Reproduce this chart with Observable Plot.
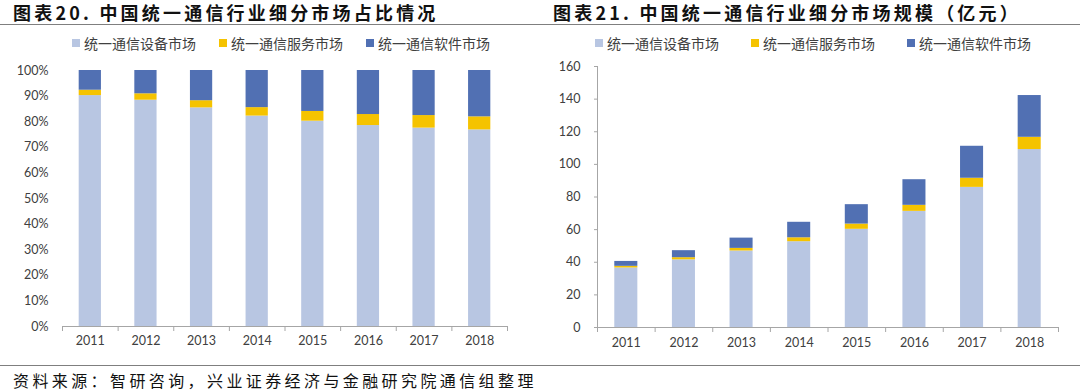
<!DOCTYPE html>
<html><head><meta charset="utf-8">
<script src="https://cdn.jsdelivr.net/npm/d3@7"></script>
<script src="https://cdn.jsdelivr.net/npm/@observablehq/plot@0.6"></script>
<style>
body{margin:0;background:#fff;width:1080px;height:392px;position:relative;overflow:hidden;font-family:"Noto Sans CJK SC",sans-serif;}
.title{position:absolute;top:0px;font-size:18px;font-weight:bold;letter-spacing:3.2px;color:#111;line-height:24px;white-space:nowrap;}
.hline{position:absolute;left:0;width:1080px;height:0;border-top:1.5px solid #7f7f7f;}
.legend{position:absolute;top:34px;display:flex;align-items:center;font-size:14px;color:#404040;line-height:18px;white-space:nowrap;}
.item{display:flex;align-items:center;}
.sw{width:8px;height:8px;margin-right:4px;}
.chart{position:absolute;top:52px;}
.source{position:absolute;left:13px;top:370px;font-size:16px;letter-spacing:3.4px;line-height:20px;color:#111;white-space:nowrap;}
</style></head><body>
<div class="title" style="left:13px">图表20. 中国统一通信行业细分市场占比情况</div>
<div class="title" style="left:553px">图表21. 中国统一通信行业细分市场规模（亿元）</div>
<div class="hline" style="top:24px"></div>
<div class="legend" id="leg1" style="left:72px"></div>
<div class="legend" id="leg2" style="left:595px"></div>
<div class="chart" id="c1" style="left:0px"></div>
<div class="chart" id="c2" style="left:540px"></div>
<div class="hline" style="top:365px"></div>
<div class="source">资料来源：智研咨询，兴业证券经济与金融研究院通信组整理</div>
<script>
const years = [2011, 2012, 2013, 2014, 2015, 2016, 2017, 2018];
const seriesNames = ["统一通信设备市场", "统一通信服务市场", "统一通信软件市场"];
const seriesColors = ["#B8C6E2", "#F5C300", "#5170B3"];

// Chart 20: share (fraction of total)
const shareDevice   = [0.902, 0.884, 0.854, 0.822, 0.802, 0.785, 0.775, 0.768];
const shareService  = [0.021, 0.025, 0.028, 0.033, 0.038, 0.043, 0.049, 0.051];
const shareSoftware = [0.077, 0.091, 0.118, 0.145, 0.160, 0.172, 0.176, 0.181];
const shareTicks = [0, 0.1, 0.2, 0.3, 0.4, 0.5, 0.6, 0.7, 0.8, 0.9, 1.0];

// Chart 21: size (亿元)
const sizeDevice   = [36.5, 41.5, 46.9, 52.6, 60.2, 71.2, 85.9, 109.1];
const sizeService  = [1.0, 1.3, 1.6, 2.4, 3.2, 3.7, 5.6, 7.5];
const sizeSoftware = [3.0, 4.3, 6.3, 9.5, 11.9, 15.7, 19.6, 25.6];
const sizeTicks = [0, 20, 40, 60, 80, 100, 120, 140, 160];

const barHalf = 0.2; // half bar width, as a fraction of one category step

function stackRows(arrays) {
  const rows = [];
  years.forEach((yr, i) => {
    let acc = 0;
    arrays.forEach((arr, s) => {
      rows.push({year: yr, series: seriesNames[s], y1: acc, y2: acc + arr[i]});
      acc += arr[i];
    });
  });
  return rows;
}
const xDomain = [years[0] - 0.5, years[years.length - 1] + 0.5];
const boundaries = [...years.map(y => y - 0.5), years[years.length - 1] + 0.5];

function legend(el, gap) {
  const L = document.getElementById(el);
  seriesNames.forEach((n, i) => {
    const it = document.createElement("div");
    it.className = "item";
    if (i < seriesNames.length - 1) it.style.marginRight = gap + "px";
    it.innerHTML = `<span class="sw" style="background:${seriesColors[i]}"></span><span>${n}</span>`;
    L.appendChild(it);
  });
}
legend("leg1", 23);
legend("leg2", 32);

const axisStyle = {fontFamily: "Lato, 'Liberation Sans', sans-serif", fontSize: "12.5px", color: "#404040", background: "transparent", overflow: "visible"};

const c1 = Plot.plot({
  width: 540, height: 300,
  marginLeft: 62, marginRight: 33, marginTop: 18, marginBottom: 26,
  x: {domain: xDomain},
  y: {domain: [0, 1]},
  color: {domain: seriesNames, range: seriesColors},
  style: axisStyle,
  marks: [
    Plot.rectY(stackRows([shareDevice, shareService, shareSoftware]), {
      x1: d => d.year - barHalf, x2: d => d.year + barHalf, y1: "y1", y2: "y2", fill: "series"
    }),
    Plot.frame({anchor: "bottom", stroke: "#A6A6A6"}),
    Plot.axisX({ticks: boundaries, tickFormat: () => "", tickSize: 5, stroke: "#A6A6A6", label: null}),
    Plot.axisX({ticks: years, tickFormat: d => String(d), tickSize: 0, tickPadding: 10, label: null}),
    Plot.axisY({ticks: shareTicks, tickFormat: d3.format(".0%"), tickSize: 0, tickPadding: 14, label: null})
  ]
});
document.getElementById("c1").appendChild(c1);

const c2 = Plot.plot({
  width: 540, height: 300,
  marginLeft: 57, marginRight: 22, marginTop: 14, marginBottom: 25,
  x: {domain: xDomain},
  y: {domain: [0, 160]},
  color: {domain: seriesNames, range: seriesColors},
  style: axisStyle,
  marks: [
    Plot.rectY(stackRows([sizeDevice, sizeService, sizeSoftware]), {
      x1: d => d.year - barHalf, x2: d => d.year + barHalf, y1: "y1", y2: "y2", fill: "series"
    }),
    Plot.frame({anchor: "bottom", stroke: "#A6A6A6"}),
    Plot.frame({anchor: "left", stroke: "#A6A6A6"}),
    Plot.axisX({ticks: boundaries, tickFormat: () => "", tickSize: 5, stroke: "#A6A6A6", label: null}),
    Plot.axisX({ticks: years, tickFormat: d => String(d), tickSize: 0, tickPadding: 11, label: null}),
    Plot.axisY({ticks: sizeTicks, tickFormat: d => String(d), tickSize: 3, tickPadding: 14, stroke: "#A6A6A6", label: null})
  ]
});
document.getElementById("c2").appendChild(c2);
</script>
</body></html>
